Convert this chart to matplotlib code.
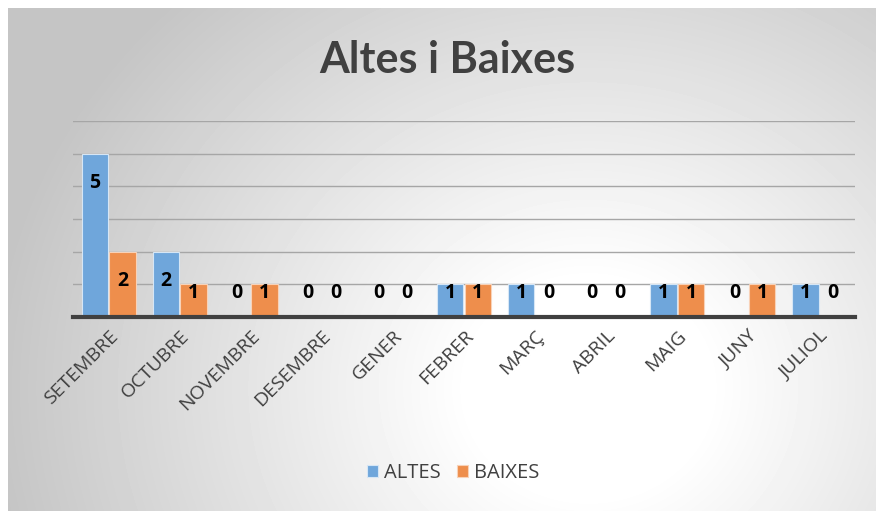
import numpy as np
import matplotlib
matplotlib.use("Agg")
import matplotlib.pyplot as plt

# Dades
mesos = ["SETEMBRE", "OCTUBRE", "NOVEMBRE", "DESEMBRE", "GENER", "FEBRER",
         "MARÇ", "ABRIL", "MAIG", "JUNY", "JULIOL"]
altes = [5, 2, 0, 0, 0, 1, 1, 0, 1, 0, 1]
baixes = [2, 1, 1, 0, 0, 1, 0, 0, 1, 1, 0]

plt.rcParams['font.family'] = ['Open Sans', 'DejaVu Sans']

W, H = 876, 511
fig = plt.figure(figsize=(W / 100, H / 100), dpi=100)

# fons amb degradat radial
bg = fig.add_axes([8 / W, 0, 1 - 8 / W, 1 - 8 / H], zorder=-10)
yy, xx = np.mgrid[0:503, 0:868]
cx, cy = 580, 380
d = np.sqrt(((xx - cx) / 1.0) ** 2 + ((yy - cy) / 0.9) ** 2)
t = np.clip((d - 120) / 480, 0, 1)
val = 1.0 - 0.23 * t
bg.imshow(val, cmap='gray', vmin=0, vmax=1, aspect='auto', interpolation='bilinear')
bg.axis('off')

ax = fig.add_axes([73 / W, 194 / H, (855 - 73) / W, (317 - 121) / H])
ax.patch.set_alpha(0)

x = np.arange(len(mesos))
w = 0.37
b1 = ax.bar(x - w / 2 - 0.01, altes, w, color='#6fa6db', edgecolor='#d6e6f5', linewidth=0.8,
            label='ALTES', zorder=3)
b2 = ax.bar(x + w / 2 + 0.01, baixes, w, color='#ee8e4c', edgecolor='#f8d2b8', linewidth=0.8,
            label='BAIXES', zorder=3)

for xi, v in zip(x - w / 2 - 0.01, altes):
    ax.text(xi, max(v - 0.9, 0.75), str(v), ha='center', va='center',
            fontsize=14, fontweight='bold', color='black', zorder=4)
for xi, v in zip(x + w / 2 + 0.01, baixes):
    ax.text(xi, max(v - 0.9, 0.75), str(v), ha='center', va='center',
            fontsize=14, fontweight='bold', color='black', zorder=4)

ax.set_xlim(-0.5, len(mesos) - 0.5)
ax.set_ylim(0, 6)
ax.set_yticks(range(0, 7))
ax.yaxis.grid(True, color='#a6a6a6', linewidth=1, zorder=0)
ax.tick_params(axis='y', left=False, labelleft=False)
ax.tick_params(axis='x', length=0, pad=7)
ax.set_xticks(x)
ax.set_xticklabels(mesos, rotation=45, ha='right', rotation_mode='anchor',
                   fontsize=14, color='#404040')
for s in ['top', 'right', 'left']:
    ax.spines[s].set_visible(False)
ax.spines['bottom'].set_color('#404040')
ax.spines['bottom'].set_linewidth(3)
ax.spines['bottom'].set_zorder(5)

fig.text(447 / W, 1 - 60 / H, 'Altes i Baixes', ha='center', va='center',
         fontsize=31, fontweight='bold', color='#404040', family=['Lato', 'DejaVu Sans'])

fig.legend(handles=[b1, b2], loc='center', bbox_to_anchor=(453 / W, 1 - 473 / H),
           ncol=2, frameon=False, fontsize=14.5, handlelength=0.55, handleheight=0.55,
           handletextpad=0.3, columnspacing=0.8, labelcolor='#404040')

fig.savefig('out.png', dpi=100)
